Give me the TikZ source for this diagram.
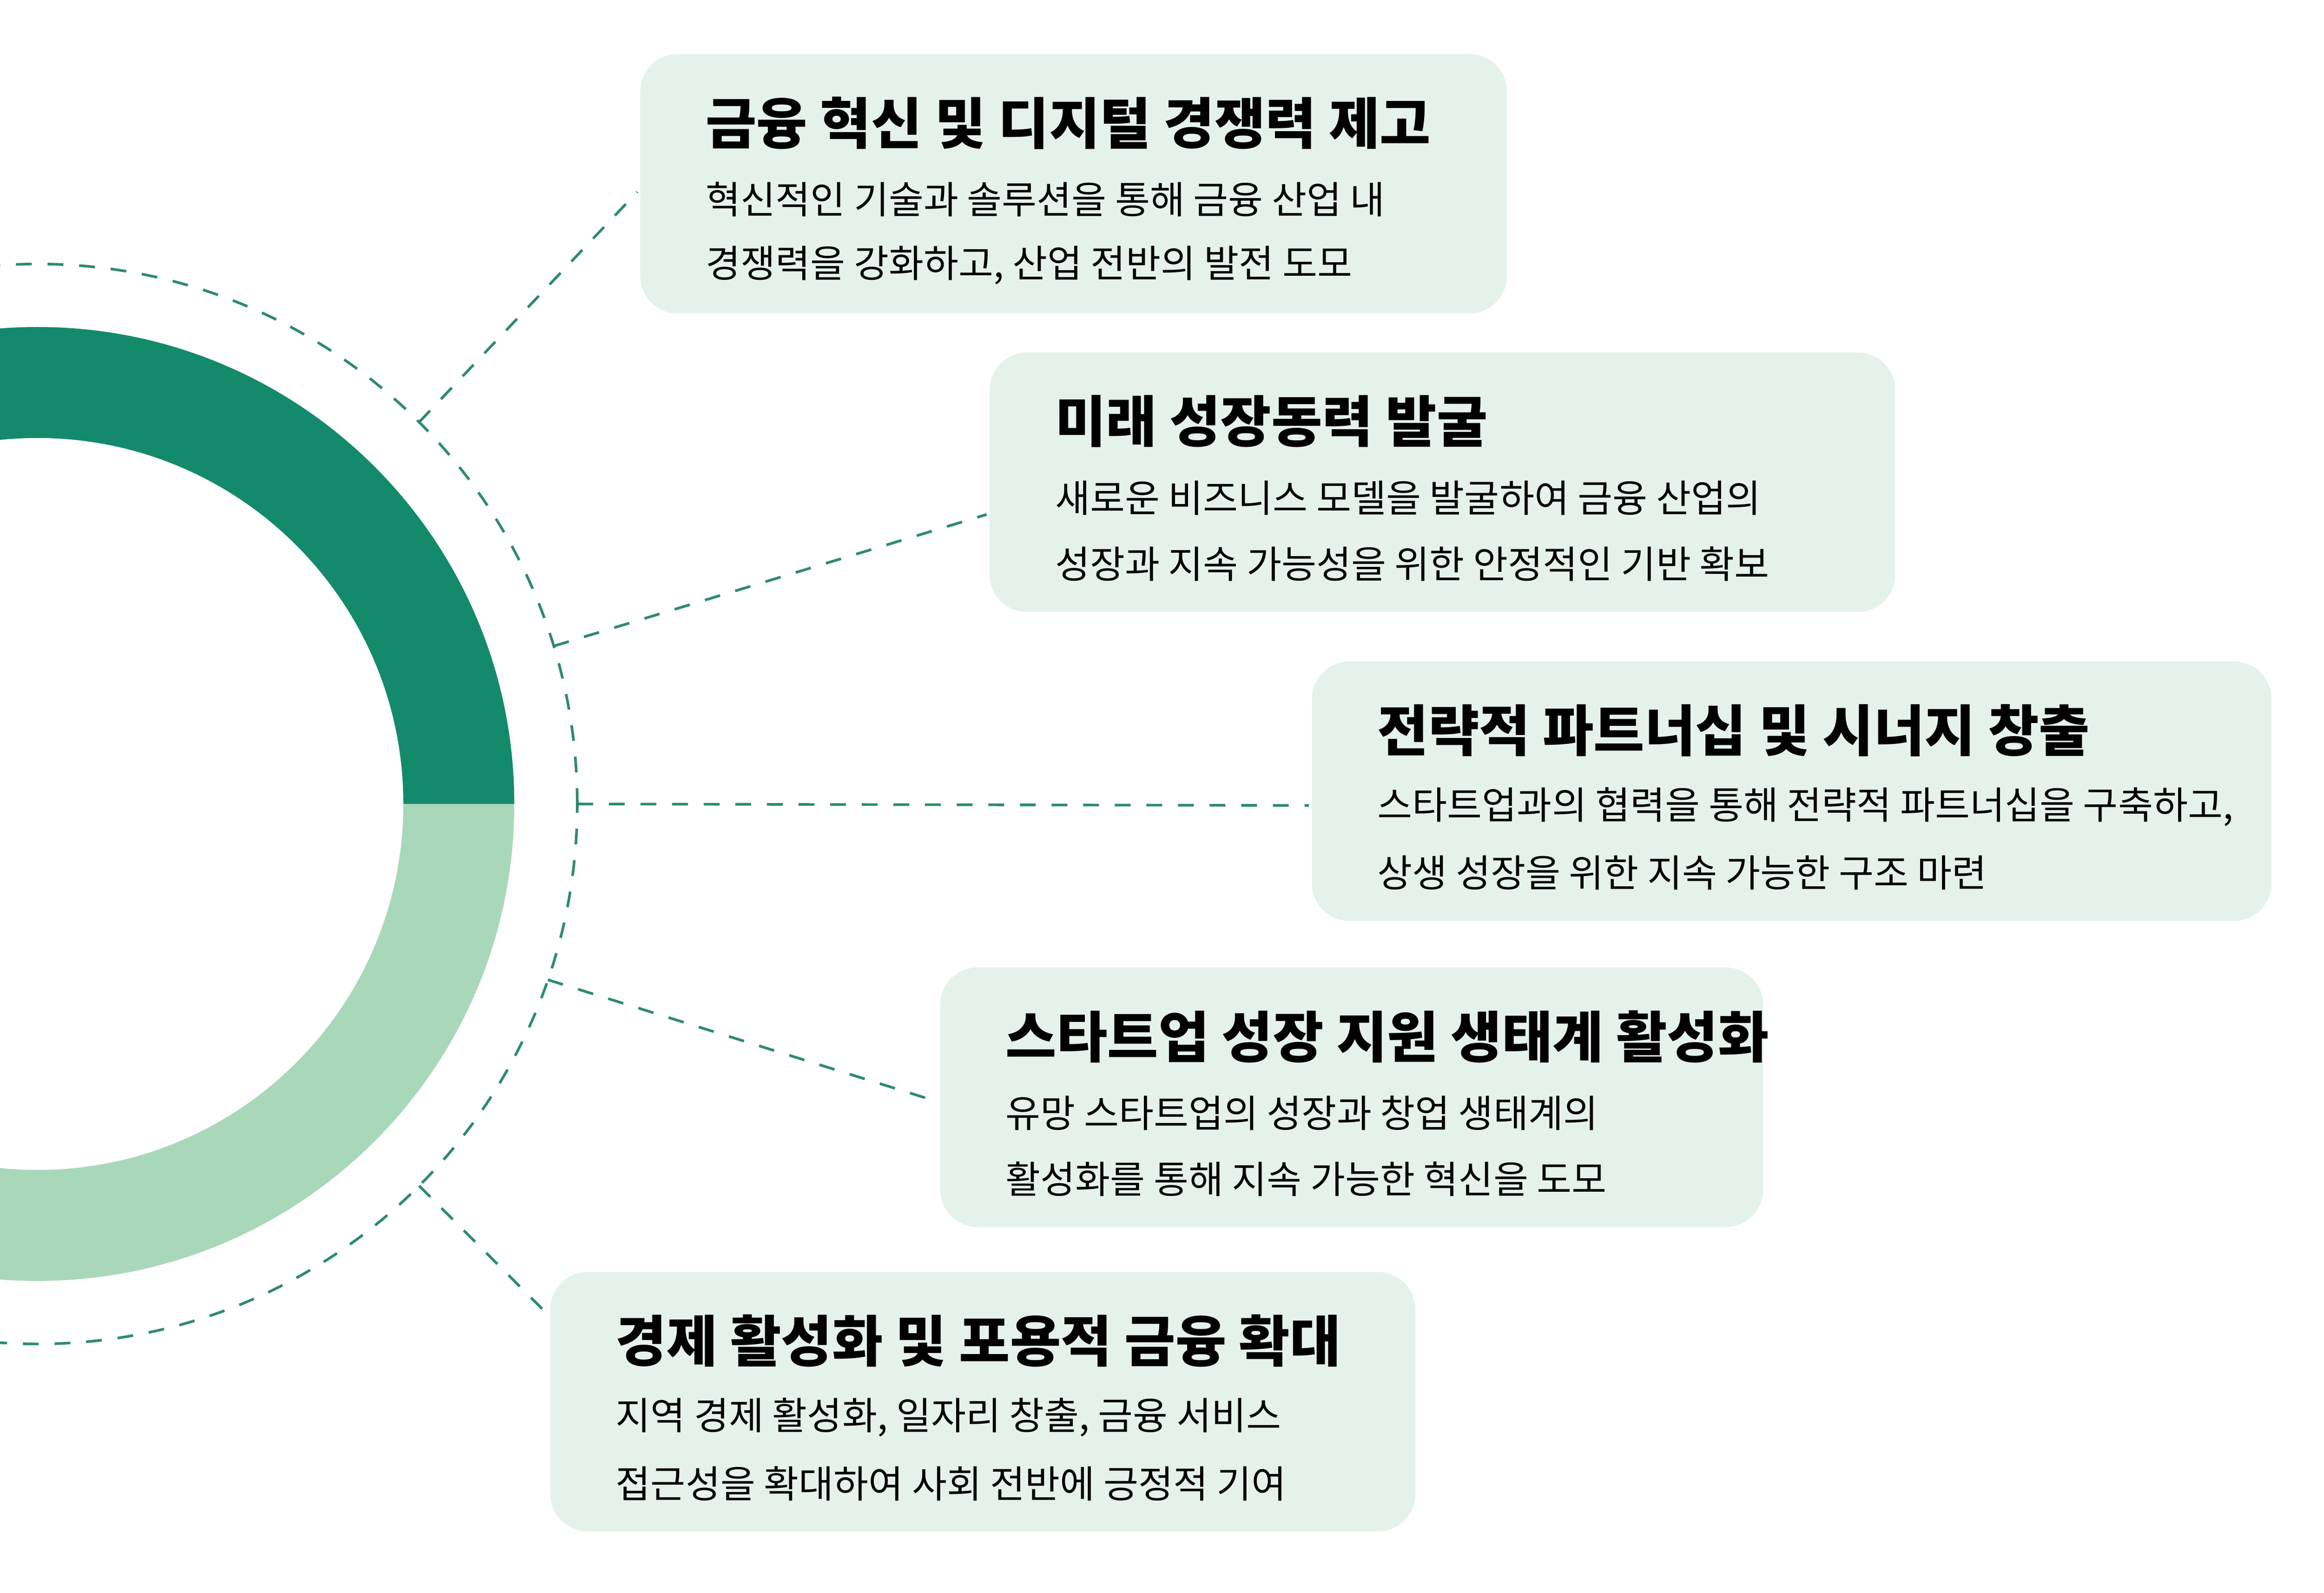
\documentclass[tikz,border=0pt]{standalone}
\usepackage{fontspec}
\setmainfont{Noto Sans CJK KR}
\usetikzlibrary{calc}
\definecolor{ringdark}{HTML}{138A6C}
\definecolor{ringlight}{HTML}{A8D8B9}
\definecolor{boxfill}{HTML}{E5F2EC}
\definecolor{dashgreen}{HTML}{2E8B6A}
\tikzset{
  card/.style={fill=boxfill,rounded corners=0.25cm},
  ttl/.style={anchor=west,font=\fontsize{10.5}{12}\selectfont\bfseries,inner sep=0pt},
  txt/.style={anchor=west,font=\fontsize{7.2}{9}\selectfont,inner sep=0pt},
  link/.style={dashgreen,dashed,line width=0.5pt}
}
\begin{document}
\begin{tikzpicture}
    \useasboundingbox (0,0) rectangle (15.5,-10.62);
    \begin{scope}
    \clip (0,0) rectangle (15.5,-10.62);
    % ring
    \fill[ringdark] (0.25,-5.36) ++(0:3.18) arc (0:180:3.18) -- ++(0.74,0) arc (180:0:2.44) -- cycle;
    \fill[ringlight] (0.25,-5.36) ++(0:3.18) arc (0:-180:3.18) -- ++(0.74,0) arc (-180:0:2.44) -- cycle;
    \draw[link] (0.25,-5.36) circle (3.6);
    \end{scope}
    \coordinate (p1) at ($(0.25,-5.36)+(45:3.6)$);
    \coordinate (p2) at ($(0.25,-5.36)+(17:3.6)$);
    \coordinate (p3) at ($(0.25,-5.36)+(0:3.6)$);
    \coordinate (p4) at ($(0.25,-5.36)+(-19:3.6)$);
    \coordinate (p5) at ($(0.25,-5.36)+(-45:3.6)$);
    % cards
    \fill[card] (4.27,-0.36) rectangle (10.05,-2.09);
    \fill[card] (6.60,-2.35) rectangle (12.64,-4.08);
    \fill[card] (8.75,-4.41) rectangle (15.15,-6.14);
    \fill[card] (6.27,-6.45) rectangle (11.76,-8.18);
    \fill[card] (3.67,-8.48) rectangle (9.44,-10.21);
    \coordinate (c1) at (4.25,-1.28);
    \coordinate (c2) at (6.58,-3.43);
    \coordinate (c3) at (8.73,-5.37);
    \coordinate (c4) at (6.27,-7.35);
    \coordinate (c5) at (3.67,-8.78);
    \foreach \i in {1,...,5} \draw[link] (p\i) -- (c\i);
    % texts
    \node[ttl] (t1) at (4.70,-0.82) {금융 혁신 및 디지털 경쟁력 제고};
    \node[txt] (a1) at (4.70,-1.33) {혁신적인 기술과 솔루션을 통해 금융 산업 내};
    \node[txt] (b1) at (4.70,-1.77) {경쟁력을 강화하고, 산업 전반의 발전 도모};
    \node[ttl] (t2) at (7.03,-2.81) {미래 성장동력 발굴};
    \node[txt] (a2) at (7.03,-3.32) {새로운 비즈니스 모델을 발굴하여 금융 산업의};
    \node[txt] (b2) at (7.03,-3.76) {성장과 지속 가능성을 위한 안정적인 기반 확보};
    \node[ttl] (t3) at (9.18,-4.87) {전략적 파트너십 및 시너지 창출};
    \node[txt] (a3) at (9.18,-5.38) {스타트업과의 협력을 통해 전략적 파트너십을 구축하고,};
    \node[txt] (b3) at (9.18,-5.82) {상생 성장을 위한 지속 가능한 구조 마련};
    \node[ttl] (t4) at (6.70,-6.91) {스타트업 성장 지원 생태계 활성화};
    \node[txt] (a4) at (6.70,-7.42) {유망 스타트업의 성장과 창업 생태계의};
    \node[txt] (b4) at (6.70,-7.86) {활성화를 통해 지속 가능한 혁신을 도모};
    \node[ttl] (t5) at (4.10,-8.94) {경제 활성화 및 포용적 금융 확대};
    \node[txt] (a5) at (4.10,-9.45) {지역 경제 활성화, 일자리 창출, 금융 서비스};
    \node[txt] (b5) at (4.10,-9.89) {접근성을 확대하여 사회 전반에 긍정적 기여};
\end{tikzpicture}
\end{document}
